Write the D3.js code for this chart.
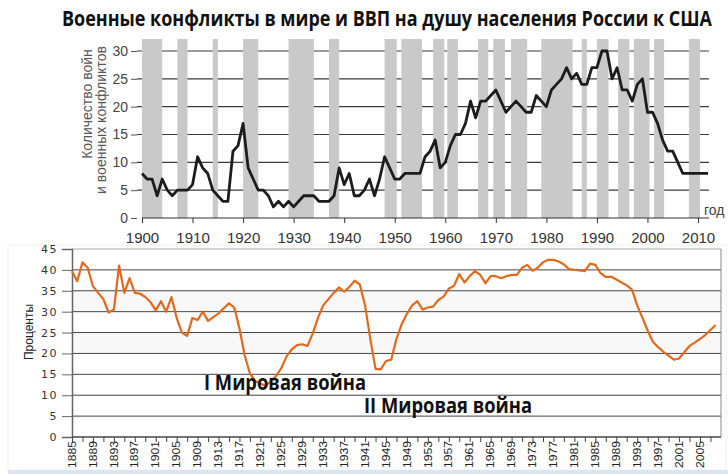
<!DOCTYPE html>
<html>
<head>
<meta charset="utf-8">
<script src="https://cdn.jsdelivr.net/npm/d3@7"></script>
<style>
  body { margin: 0; background: #fff; }
  svg { display: block; }
</style>
</head>
<body>
<div id="chart"></div>
<script>
// Data: wars and armed conflicts per year (top panel)
var warYears = d3.range(1900, 2013);
var warCounts = [
  8, 7, 7, 4, 7, 5, 4, 5, 5, 5,          // 1900-1909
  6, 11, 9, 8, 5, 4, 3, 3, 12, 13,       // 1910-1919
  17, 9, 7, 5, 5, 4, 2, 3, 2, 3,         // 1920-1929
  2, 3, 4, 4, 4, 3, 3, 3, 4, 9,          // 1930-1939
  6, 8, 4, 4, 5, 7, 4, 7, 11, 9,         // 1940-1949
  7, 7, 8, 8, 8, 8, 11, 12, 14, 9,       // 1950-1959
  10, 13, 15, 15, 17, 21, 18, 21, 21, 22, // 1960-1969
  23, 21, 19, 20, 21, 20, 19, 19, 22, 21, // 1970-1979
  20, 23, 24, 25, 27, 25, 26, 24, 24, 27, // 1980-1989
  27, 30, 30, 25, 27, 23, 23, 21, 24, 25, // 1990-1999
  19, 19, 17, 14, 12, 12, 10, 8, 8, 8,   // 2000-2009
  8, 8, 8                                // 2010-2012
];
// grey bands: periods [start, end]
var bands = [
  [1900, 1904], [1907, 1909], [1914, 1915], [1920, 1923], [1929, 1934],
  [1937, 1939], [1948, 1950.4], [1951.3, 1955.4], [1957.6, 1959.8], [1960.4, 1962.5],
  [1966.5, 1968.5], [1969.5, 1971.8], [1973, 1976.2], [1979, 1985.2], [1987, 1988],
  [1990, 1992.3], [1994.2, 1996.4], [1997.3, 2000.4], [2001.3, 2003.3], [2008.2, 2010.4]
];
var warYTicks = [0, 5, 10, 15, 20, 25, 30];
var warXTicks = d3.range(1900, 2011, 10);

// Data: GDP per capita of Russia as % of USA (bottom panel)
var gdpYears = d3.range(1885, 2009);
var gdpShare = [
  39.7, 37.3, 41.8, 40.5, 36.1, 34.5, 33, 29.8, 30.5, 41,     // 1885-1894
  34.5, 38, 34.5, 34.3, 33.5, 32.3, 30.3, 32.5, 30, 33.5,     // 1895-1904
  28.5, 25, 24.2, 28.5, 28, 30, 27.8, 28.7, 29.6, 30.8,       // 1905-1914
  32, 31, 26, 19.5, 15.2, 13.4, 12.8, 12.2, 13.4, 14.6,       // 1915-1924
  16.5, 19.3, 21, 22, 22.2, 21.8, 24.8, 28.5, 31.5, 33,       // 1925-1934
  34.5, 35.8, 34.8, 35.9, 37.4, 36.5, 31.5, 23.5, 16.3, 16.2, // 1935-1944
  18.2, 18.5, 23.5, 27, 29.5, 31.5, 32.5, 30.5, 31, 31.2,     // 1945-1954
  32.8, 33.6, 35.5, 36.2, 39, 37, 38.5, 39.7, 38.8, 36.8,     // 1955-1964
  38.5, 38.5, 38, 38.5, 38.8, 38.8, 40.5, 41.2, 39.8, 40.5,   // 1965-1974
  41.8, 42.4, 42.4, 42, 41.3, 40.2, 40, 39.9, 39.7, 41.5,     // 1975-1984
  41.2, 39.2, 38.3, 38.4, 37.7, 37, 36.3, 35.3, 31.5, 28.5,   // 1985-1994
  25.5, 22.8, 21.5, 20.4, 19.5, 18.5, 18.8, 20.3, 21.8, 22.6, // 1995-2004
  23.5, 24.4, 25.6, 26.8                                      // 2005-2008
];
var gdpYTicks = [0, 5, 10, 15, 20, 25, 30, 35, 40, 45];
var gdpXLabels = d3.range(1885, 2006, 4);
var gdpXTicks = d3.range(1885, 2009, 2);

var W = 728, H = 474;
var svg = d3.select("#chart").append("svg")
  .attr("width", W).attr("height", H);

// Title (condensed look: smaller font stretched vertically)
svg.append("text")
  .attr("transform", "translate(387,26) scale(1,1.25)")
  .attr("text-anchor", "middle")
  .attr("textLength", 650).attr("lengthAdjust", "spacingAndGlyphs")
  .style("font-family", "'Open Sans', sans-serif")
  .style("font-weight", "bold").style("font-size", "16.5px")
  .style("fill", "#111")
  .text("Военные конфликты в мире и ВВП на душу населения России к США");

//
// Top panel
var x1 = d3.scaleLinear().domain([1900, 2010]).range([142, 698]);
var y1 = d3.scaleLinear().domain([0, 30]).range([218, 51]);
var topG = svg.append("g");

// grid lines first, bands cover them
topG.selectAll("line.grid")
  .data(warYTicks.filter(function(d) { return d > 0; }))
  .enter().append("line")
  .attr("class", "grid")
  .attr("x1", 137).attr("x2", 709)
  .attr("y1", function(d) { return y1(d); })
  .attr("y2", function(d) { return y1(d); })
  .style("stroke", "#3a3a3a").style("stroke-width", 1.2);

topG.selectAll("rect.band")
  .data(bands)
  .enter().append("rect")
  .attr("class", "band")
  .attr("x", function(d) { return x1(d[0]); })
  .attr("width", function(d) { return x1(d[1]) - x1(d[0]); })
  .attr("y", 39).attr("height", 218 - 39)
  .style("fill", "#c9c9c9");

// y axis
var yAxis1 = topG.append("g")
  .attr("transform", "translate(137,0)")
  .call(d3.axisLeft(y1).tickValues(warYTicks).tickSize(6).tickPadding(3));
yAxis1.select(".domain").remove();
yAxis1.selectAll("line").style("stroke", "#555");
yAxis1.selectAll("text")
  .style("font-family", "'Liberation Sans', Arial, sans-serif")
  .style("font-size", "14px").style("fill", "#444");

// x axis
var xAxis1 = topG.append("g")
  .attr("transform", "translate(0,218)")
  .call(d3.axisBottom(x1).tickValues(warXTicks).tickFormat(d3.format("d")).tickSize(5).tickPadding(9));
xAxis1.select(".domain").remove();
xAxis1.selectAll("line").style("stroke", "#333");
xAxis1.selectAll("text")
  .style("font-family", "'Liberation Sans', Arial, sans-serif")
  .style("font-size", "15px").style("fill", "#333");
topG.append("line")
  .attr("x1", 142).attr("x2", 709).attr("y1", 218).attr("y2", 218)
  .style("stroke", "#333").style("stroke-width", 1.2);

topG.append("text")
  .attr("x", 704).attr("y", 215)
  .style("font-family", "'Liberation Sans', Arial, sans-serif")
  .style("font-size", "14px").style("fill", "#444")
  .text("год");

// y axis title
topG.append("text")
  .attr("transform", "translate(92,104) rotate(-90)")
  .attr("text-anchor", "middle")
  .style("font-family", "'Liberation Sans', Arial, sans-serif")
  .style("font-size", "14px").style("fill", "#555")
  .text("Количество войн");
topG.append("text")
  .attr("transform", "translate(106,120) rotate(-90)")
  .attr("text-anchor", "middle")
  .style("font-family", "'Liberation Sans', Arial, sans-serif")
  .style("font-size", "14px").style("fill", "#555")
  .text("и военных конфликтов");

var line1 = d3.line()
  .x(function(d, i) { return x1(warYears[i]); })
  .y(function(d) { return y1(d); });
topG.append("path")
  .datum(warCounts)
  .attr("d", line1)
  .style("fill", "none").style("stroke", "#1c1c1c")
  .style("stroke-width", 2.8).style("stroke-linejoin", "round");

//
// Bottom panel
var x2 = d3.scaleLinear().domain([1885, 2005]).range([72, 700]);
var y2 = d3.scaleLinear().domain([0, 45]).range([437, 249]);
var bot = svg.append("g");

bot.append("rect")
  .attr("x", 8).attr("y", 245).attr("width", 718).attr("height", 225)
  .style("fill", "#fff").style("stroke", "#f0f0f0");
bot.append("rect")
  .attr("x", 8).attr("y", 470).attr("width", 720).attr("height", 4)
  .style("fill", "#dce5f1");

// light bands
bot.selectAll("rect.shade")
  .data([[20, 25], [30, 35]])
  .enter().append("rect")
  .attr("class", "shade")
  .attr("x", 72).attr("width", 721 - 72)
  .attr("y", function(d) { return y2(d[1]); })
  .attr("height", function(d) { return y2(d[0]) - y2(d[1]); })
  .style("fill", "#f8f8f8");

bot.selectAll("line.grid")
  .data(gdpYTicks.filter(function(d) { return d > 0; }))
  .enter().append("line")
  .attr("class", "grid")
  .attr("x1", 72).attr("x2", 721)
  .attr("y1", function(d) { return y2(d); })
  .attr("y2", function(d) { return y2(d); })
  .style("stroke", function(d) { return d === 45 ? "#aaa" : "#444"; })
  .style("stroke-width", 1);

bot.append("line")
  .attr("x1", 721).attr("x2", 721).attr("y1", 249).attr("y2", 437)
  .style("stroke", "#888");

var yAxis2 = bot.append("g")
  .attr("transform", "translate(72,0)")
  .call(d3.axisLeft(y2).tickValues(gdpYTicks).tickSize(10).tickPadding(4));
yAxis2.select(".domain").style("stroke", "#666").style("stroke-width", 1.5);
yAxis2.selectAll("line").style("stroke", "#666");
yAxis2.selectAll("text")
  .style("font-family", "'DejaVu Sans', Verdana, sans-serif")
  .style("font-size", "11px").style("letter-spacing", "1.5px")
  .style("fill", "#333");

// x axis: ticks every 2 years, labels every 4
var xAxis2 = bot.append("g")
  .attr("transform", "translate(0,437)")
  .call(d3.axisBottom(x2).tickValues(gdpXTicks).tickFormat("").tickSize(5));
xAxis2.select(".domain").attr("d", "M72,0H721").style("stroke", "#444").style("stroke-width", 1.5);
xAxis2.selectAll("line").style("stroke", "#444");

bot.selectAll("text.xl")
  .data(gdpXLabels)
  .enter().append("text")
  .attr("class", "xl")
  .attr("transform", function(d) { return "translate(" + x2(d) + ",441) rotate(-90)"; })
  .attr("text-anchor", "end")
  .attr("dy", "0.35em")
  .attr("textLength", 27).attr("lengthAdjust", "spacingAndGlyphs")
  .style("font-family", "'Liberation Sans', Arial, sans-serif")
  .style("font-size", "10.5px").style("fill", "#222")
  .text(function(d) { return d; });

bot.append("text")
  .attr("transform", "translate(29,332) rotate(-90)")
  .attr("text-anchor", "middle")
  .attr("dy", "0.35em")
  .style("font-family", "'Liberation Sans', Arial, sans-serif")
  .style("font-size", "12px").style("fill", "#222")
  .text("Проценты");

var line2 = d3.line()
  .x(function(d, i) { return x2(gdpYears[i]); })
  .y(function(d) { return y2(d); });
bot.append("path")
  .datum(gdpShare)
  .attr("d", line2)
  .style("fill", "none").style("stroke", "#e2691c")
  .style("stroke-width", 2.2).style("stroke-linejoin", "round");

// annotations
bot.append("text")
  .attr("x", 204).attr("y", 390)
  .attr("textLength", 162).attr("lengthAdjust", "spacingAndGlyphs")
  .style("font-family", "'Open Sans', sans-serif")
  .style("font-weight", "bold").style("font-size", "22px").style("fill", "#111")
  .text("I Мировая война");
bot.append("text")
  .attr("x", 364).attr("y", 413)
  .attr("textLength", 168).attr("lengthAdjust", "spacingAndGlyphs")
  .style("font-family", "'Open Sans', sans-serif")
  .style("font-weight", "bold").style("font-size", "22px").style("fill", "#111")
  .text("II Мировая война");
</script>
</body>
</html>
